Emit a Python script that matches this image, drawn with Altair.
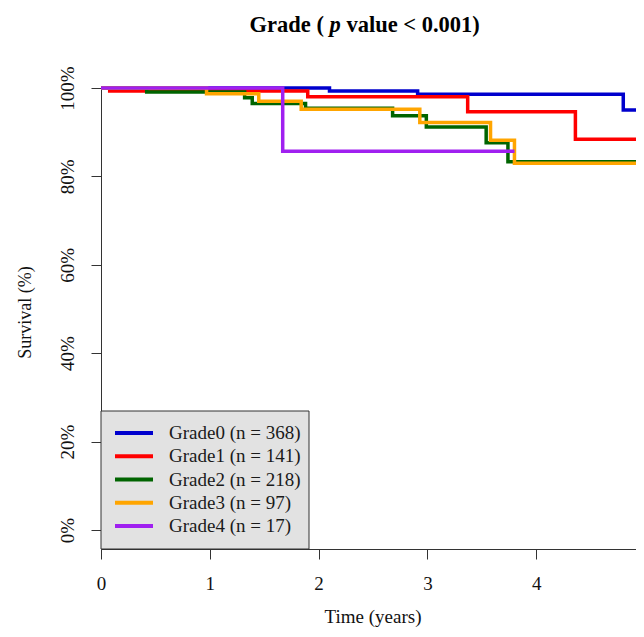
import altair as alt
import pandas as pd

# ---- data ----
labels = ["Grade0 (n = 368)", "Grade1 (n = 141)", "Grade2 (n = 218)",
          "Grade3 (n = 97)", "Grade4 (n = 17)"]
colors = ["#0000CD", "#FF0000", "#006400", "#FFA500", "#A020F0"]

g0_time = [0, 2.10, 2.91, 4.80, 5.0]
g0_surv = [100, 99.3, 98.6, 95.0, 95.0]
g1_time = [0, 0.08, 1.90, 3.37, 4.36, 5.0]
g1_surv = [100, 99.3, 98.0, 94.6, 88.4, 88.4]
g2_time = [0, 0.42, 1.32, 1.39, 1.88, 2.68, 2.99, 3.54, 3.74, 5.0]
g2_surv = [100, 99.1, 97.8, 96.5, 95.4, 93.7, 91.2, 87.6, 83.3, 83.3]
g3_time = [0, 0.97, 1.45, 1.84, 2.93, 3.58, 3.80, 5.0]
g3_surv = [100, 98.7, 97.0, 95.2, 92.2, 88.2, 83.0, 83.0]
g4_time = [0, 1.67, 3.80]
g4_surv = [100, 85.7, 85.7]

x_ticks = [0, 1, 2, 3, 4, 5]
y_ticks = [0, 20, 40, 60, 80, 100]
title_parts = ["Grade (", "p", "value < 0.001)"]

series = [(g0_time, g0_surv), (g1_time, g1_surv), (g2_time, g2_surv),
          (g3_time, g3_surv), (g4_time, g4_surv)]
rows = []
for lab, (ts, ss) in zip(labels, series):
    for t, s in zip(ts, ss):
        rows.append({"grade": lab, "time": t, "surv": s})
df = pd.DataFrame(rows)

FONT = "Liberation Serif"
AX = "#333333"
TXT = "#111111"
W, H = 535, 461
X_MAX = 4.917   # plot is cut at the right edge, as in the reference

x_enc = alt.X("time:Q",
              scale=alt.Scale(domain=[0, X_MAX], nice=False, zero=False),
              axis=alt.Axis(values=x_ticks, format="d", grid=False,
                            tickSize=10, labelPadding=15, labelFlush=False,
                            labelOverlap=False, labelBound=False,
                            labelFont=FONT, labelFontSize=19, labelColor=TXT,
                            domainColor=AX, tickColor=AX,
                            title="Time (years)", titleFont=FONT, titleFontSize=19,
                            titleFontWeight="normal", titleColor=TXT,
                            titleX=271.5, titleY=67, titleBaseline="middle",
                            titleAlign="center"))
y_enc = alt.Y("surv:Q",
              scale=alt.Scale(domain=[-4.3, 100], nice=False, zero=False),
              axis=alt.Axis(values=y_ticks, labelExpr="datum.value + '%'",
                            grid=False, tickSize=10, labelPadding=14,
                            labelAngle=270, labelAlign="center", labelBaseline="bottom",
                            labelFont=FONT, labelFontSize=19, labelColor=TXT,
                            domainColor=AX, tickColor=AX,
                            title="Survival (%)", titleFont=FONT, titleFontSize=18,
                            titleFontWeight="normal", titleColor=TXT,
                            titleAngle=270, titleX=-76, titleY=224,
                            titleBaseline="middle", titleAlign="center"))
color_enc = alt.Color("grade:N", scale=alt.Scale(domain=labels, range=colors),
                      legend=None)

base = alt.Chart(df)
layers = []
for lab in labels:
    layers.append(
        base.transform_filter(alt.datum.grade == lab)
        .mark_line(interpolate="step-after", strokeWidth=3.5)
        .encode(x=x_enc, y=y_enc, color=color_enc)
    )

one = pd.DataFrame({"k": [0]})

# legend box (bottom-left, inside the plot)
legend_box = alt.Chart(one).mark_rect(fill="#e2e2e2", stroke="#333333", strokeWidth=1).encode(
    x=alt.value(0), x2=alt.value(208), y=alt.value(323), y2=alt.value(H))
legend_layers = [legend_box]
for i, (lab, col) in enumerate(zip(labels, colors)):
    yy = 345 + i * 23.25
    legend_layers.append(
        alt.Chart(one).mark_rule(strokeWidth=4, color=col).encode(
            x=alt.value(14), x2=alt.value(52), y=alt.value(yy)))
    legend_layers.append(
        alt.Chart(one).mark_text(font=FONT, fontSize=19, align="left", baseline="middle",
                                 color="#1a1a1a").encode(
            x=alt.value(68), y=alt.value(yy), text=alt.value(lab)))

# title with italic p
TY = -63
t1 = alt.Chart(one).mark_text(font=FONT, fontSize=22.5, fontWeight="bold",
                              align="right", baseline="middle", color="#000000").encode(
    x=alt.value(222.9), y=alt.value(TY), text=alt.value(title_parts[0]))
t2 = alt.Chart(one).mark_text(font=FONT, fontSize=22.5, fontWeight="bold", fontStyle="italic",
                              align="center", baseline="middle", color="#000000").encode(
    x=alt.value(234.1), y=alt.value(TY), text=alt.value(title_parts[1]))
t3 = alt.Chart(one).mark_text(font=FONT, fontSize=22.5, fontWeight="bold",
                              align="left", baseline="middle", color="#000000").encode(
    x=alt.value(245.4), y=alt.value(TY), text=alt.value(title_parts[2]))

chart = alt.layer(*layers, *legend_layers, t1, t2, t3).properties(
    width=W, height=H,
    autosize=alt.AutoSizeParams(type="none"),
    padding={"left": 93, "top": 80, "right": 0, "bottom": 79},
    background="white",
).configure_view(stroke=None)

chart.save("out.html", embed_options={"renderer": "svg", "actions": False})
